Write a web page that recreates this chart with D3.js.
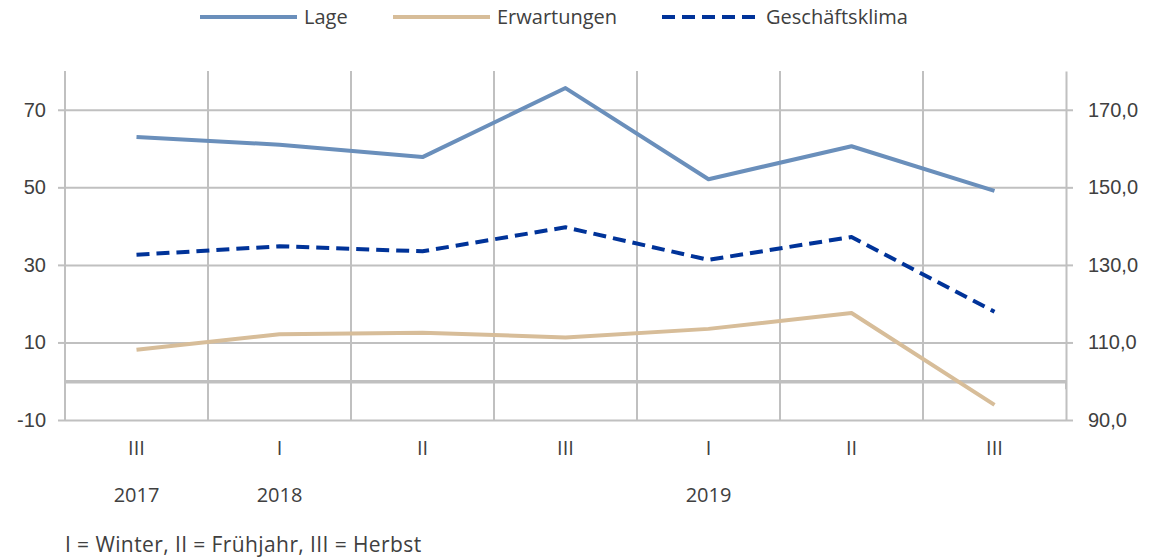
<!DOCTYPE html>
<html>
<head>
<meta charset="utf-8">
<script src="https://cdn.jsdelivr.net/npm/d3@7"></script>
<style>
  body { margin: 0; background: #fff; }
  svg { font-family: "Open Sans", sans-serif; }
</style>
</head>
<body>
<svg id="chart"></svg>
<script>
// quarters (I = Winter, II = Frühjahr, III = Herbst)
const quarters = ["III", "I", "II", "III", "I", "II", "III"];
const years = ["2017", "2018", "", "", "2019", "", ""];

// left axis (balance)
const lage = [63.0, 61.0, 57.8, 75.6, 52.1, 60.6, 49.1];
const erwartungen = [8.1, 12.1, 12.5, 11.3, 13.5, 17.6, -6.1];
// right axis (index)
const geschaeftsklima = [132.6, 134.8, 133.5, 139.7, 131.3, 137.2, 117.9];

const leftTicks = [-10, 10, 30, 50, 70];
const rightTicks = [90, 110, 130, 150, 170];

const width = 1154, height = 558;
const margin = { top: 71, right: 88, bottom: 138, left: 65 };

const svg = d3.select("#chart")
    .attr("width", width)
    .attr("height", height);

const x = d3.scaleBand()
    .domain(d3.range(quarters.length))
    .range([margin.left, width - margin.right]);

const yL = d3.scaleLinear().domain([-10, 80]).range([height - margin.bottom, margin.top]);
const yR = d3.scaleLinear().domain([90, 180]).range([height - margin.bottom, margin.top]);

const grid = "#c0c0c0";
const textColor = "#404040";
const cx = i => x(i) + x.bandwidth() / 2;

// horizontal grid + left labels
svg.append("g")
    .attr("transform", `translate(${margin.left},0)`)
    .call(d3.axisLeft(yL).tickValues(leftTicks).tickSize(7).tickFormat(d => String(d)))
    .call(g => g.select(".domain").remove())
    .call(g => g.selectAll(".tick line").attr("stroke", grid).attr("stroke-width", 2))
    .call(g => g.selectAll(".tick line").clone()
        .attr("x1", 0)
        .attr("x2", width - margin.left - margin.right))
    .call(g => g.selectAll(".tick text")
        .attr("x", -19)
        .attr("fill", textColor)
        .attr("font-size", 20));

// vertical grid lines at band edges
const edges = d3.range(quarters.length + 1).map(i => i === quarters.length ? x.range()[1] : x(i));
svg.append("g")
    .selectAll("line")
    .data(edges.slice(0, -1))
    .join("line")
    .attr("x1", d => d).attr("x2", d => d)
    .attr("y1", margin.top).attr("y2", height - margin.bottom)
    .attr("stroke", grid)
    .attr("stroke-width", 2);

// right axis
svg.append("g")
    .attr("transform", `translate(${width - margin.right},0)`)
    .call(d3.axisRight(yR).tickValues(rightTicks).tickSize(7).tickSizeOuter(0)
        .tickFormat(d => d3.format(".1f")(d).replace(".", ",")))
    .call(g => g.select(".domain").attr("stroke", grid).attr("stroke-width", 2))
    .call(g => g.selectAll(".tick line").attr("stroke", grid).attr("stroke-width", 2))
    .call(g => g.selectAll(".tick text")
        .attr("x", 22)
        .attr("fill", textColor)
        .attr("font-size", 20));

// category axis at zero
svg.append("g")
    .attr("transform", `translate(0,${yL(0)})`)
    .call(d3.axisBottom(x).tickValues([]).tickSizeOuter(0))
    .call(g => g.select(".domain").attr("stroke", grid).attr("stroke-width", 3.5));

svg.append("g")
    .attr("transform", `translate(0,${yL(0)})`)
    .selectAll("line")
    .data(edges)
    .join("line")
    .attr("x1", d => d).attr("x2", d => d)
    .attr("y1", 0).attr("y2", 8)
    .attr("stroke", grid)
    .attr("stroke-width", 2);

// quarter + year labels
svg.append("g")
    .selectAll("text")
    .data(quarters)
    .join("text")
    .attr("x", (d, i) => cx(i))
    .attr("y", 455)
    .attr("text-anchor", "middle")
    .attr("fill", textColor)
    .attr("font-size", 20)
    .text(d => d);

svg.append("g")
    .selectAll("text")
    .data(years)
    .join("text")
    .attr("x", (d, i) => cx(i))
    .attr("y", 502)
    .attr("text-anchor", "middle")
    .attr("fill", textColor)
    .attr("font-size", 20)
    .text(d => d);

svg.append("text")
    .attr("x", margin.left)
    .attr("y", 552)
    .attr("fill", textColor)
    .attr("font-size", 21)
    .attr("letter-spacing", 0.4)
    .text("I = Winter, II = Frühjahr, III = Herbst");

// series
const series = [
  { name: "Lage", values: lage, y: yL, color: "#6a8fbb", dash: null },
  { name: "Erwartungen", values: erwartungen, y: yL, color: "#d7bd99", dash: null },
  { name: "Geschäftsklima", values: geschaeftsklima, y: yR, color: "#003399", dash: "13,7" }
];

series.forEach(s => {
  const line = d3.line()
      .x((d, i) => cx(i))
      .y(d => s.y(d));
  svg.append("path")
      .attr("d", line(s.values))
      .attr("fill", "none")
      .attr("stroke", s.color)
      .attr("stroke-width", 4)
      .attr("stroke-linejoin", "round")
      .attr("stroke-dasharray", s.dash);
});

// legend
const legendX = [200, 393, 662];
const legend = svg.append("g")
    .selectAll("g")
    .data(series)
    .join("g")
    .attr("transform", (d, i) => `translate(${legendX[i]},17)`);

legend.append("line")
    .attr("x1", 0).attr("x2", 97)
    .attr("stroke", d => d.color)
    .attr("stroke-width", 4)
    .attr("stroke-dasharray", d => d.dash);

legend.append("text")
    .attr("x", 104)
    .attr("dy", "0.35em")
    .attr("fill", textColor)
    .attr("font-size", 20)
    .text(d => d.name);
</script>
</body>
</html>
